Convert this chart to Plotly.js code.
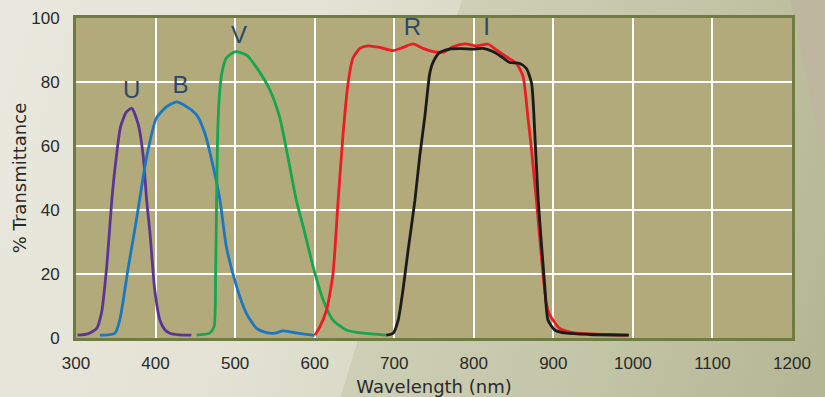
<!DOCTYPE html>
<html>
<head>
<meta charset="utf-8">
<script src="https://cdn.plot.ly/plotly-3.0.1.min.js"></script>
<style>
html,body{margin:0;padding:0;}
body{width:825px;height:397px;overflow:hidden;
background: linear-gradient(107deg, #e9e8de 0%, #e3e2d4 35%, #dadbc8 48.8%, #cdd0b6 48.8%, #c3c6a8 72%, #b4b592 100%);}
#chart{width:825px;height:397px;}
</style>
</head>
<body>
<div id="chart"></div>
<script>
// Wavelength (nm) and % transmittance for each filter
const uWave = [302, 315, 326, 332, 338.5, 345, 349, 356, 363, 370, 378, 384.6, 388.8, 393, 399, 405.5, 412, 418, 430, 445];
const uTrans = [0.9, 1.3, 3, 7.8, 22, 43, 53, 66, 70.5, 71.8, 67, 56.6, 43, 32.8, 15, 5.6, 2.5, 1.5, 1.0, 0.9];

const bWave = [330, 340, 349, 355, 365.7, 376, 388.8, 401, 414, 426.5, 439, 451.6, 462, 472.5, 481, 489, 502, 514, 527, 539.6, 550, 560, 572, 585, 600];
const bTrans = [0.9, 1.0, 1.5, 5.6, 22, 37, 56.6, 68.7, 72.3, 73.8, 72.3, 69.7, 64, 53.5, 43, 28.5, 16, 7.8, 3, 1.7, 1.5, 2.2, 1.8, 1.3, 0.8];

const vWave = [451.6, 460, 468, 473.5, 475.5, 476.7, 478, 480, 483.5, 489, 500.6, 514.4, 529, 543.7, 556, 566, 577, 585.6, 598, 610.7, 623, 640, 661, 690];
const vTrans = [0.9, 1.1, 1.5, 3.5, 20, 43, 63, 75, 83, 87.5, 89.5, 88.4, 83.8, 77.5, 69, 57, 43, 34.8, 22.3, 11.9, 5.6, 2.5, 1.5, 0.9];

const rWave = [600.3, 606.5, 615, 623, 629.5, 635.8, 642, 648, 656.8, 667, 682, 698.6, 711, 723.7, 736, 749, 761.4, 774, 788.7, 803, 818, 828.5, 841, 853.6, 862, 868, 872.6, 878.7, 891, 895.5, 908, 924.7, 966.6, 993.8];
const rTrans = [0.9, 3.5, 8.75, 20, 43, 64, 79.6, 87.4, 90.5, 91.3, 90.8, 89.8, 90.8, 91.9, 90.5, 89.5, 89.3, 91, 91.9, 91.3, 91.8, 90, 87.9, 85.8, 81.7, 69, 58.8, 43, 11, 7.2, 3, 1.7, 1.1, 0.9];

const iWave = [690, 698.6, 705, 711, 717.5, 726, 732, 738.4, 744.7, 749, 757, 769.8, 785, 799, 811.7, 824, 834.8, 845, 857.8, 866, 872.6, 876.7, 881, 889, 893.3, 901.7, 916.4, 945.7, 995];
const iTrans = [0.9, 1.5, 5.6, 15, 27.5, 43, 56.7, 69, 82.7, 86.3, 89.2, 90.3, 90.4, 90.3, 90.5, 89.5, 87.9, 86.1, 85.8, 84.3, 79.6, 64, 43, 17, 5.6, 2.5, 1.5, 1.1, 0.9];

const labelNames = ["U", "B", "V", "R", "I"];
const labelWave = [370, 431.5, 505, 723, 816];
const labelTrans = [77, 78.4, 94.2, 96.6, 96.6];

const xTicks = [300, 400, 500, 600, 700, 800, 900, 1000, 1100, 1200];
const yTicks = [0, 20, 40, 60, 80, 100];

const colors = {U: "#5b3596", B: "#1a78c2", V: "#14a650", R: "#ec1c24", I: "#1b1b1b"};

function line(x, y, c) {
  return {x: x, y: y, type: "scatter", mode: "lines",
    line: {color: c, width: 2.8, shape: "spline", smoothing: 0.6},
    hoverinfo: "skip", showlegend: false};
}

const data = [
  line(uWave, uTrans, colors.U),
  line(bWave, bTrans, colors.B),
  line(vWave, vTrans, colors.V),
  line(rWave, rTrans, colors.R),
  line(iWave, iTrans, colors.I),
  {x: labelWave, y: labelTrans, text: labelNames, type: "scatter", mode: "text",
   textfont: {family: "Liberation Sans Narrow, Liberation Sans, Arial, sans-serif", size: 24, color: "#2b4868"},
   textposition: "middle center", hoverinfo: "skip", showlegend: false, cliponaxis: false}
];

const axisFont = {family: "Liberation Sans, Arial, sans-serif", size: 17, color: "#2a2a2a"};
const titleFont = {family: "DejaVu Sans, Verdana, sans-serif", size: 18, color: "#2a2a2a"};

const layout = {
  width: 825, height: 397,
  margin: {l: 76, r: 33, t: 18, b: 59, pad: 0},
  paper_bgcolor: "rgba(0,0,0,0)",
  plot_bgcolor: "#b2aa7a",
  shapes: [{type: "path", xref: "paper", yref: "paper", layer: "below",
    path: "M 0.997 1.06 L 1.05 1.06 L 1.05 0.49 Z",
    fillcolor: "#beb69e", line: {width: 0}}],
  xaxis: {
    range: [300, 1200], tickvals: xTicks, ticktext: xTicks.map(String),
    showgrid: true, gridcolor: "#ffffff", gridwidth: 2,
    zeroline: false, showline: true, mirror: true, linecolor: "#6e7b41", linewidth: 3,
    ticks: "", tickfont: axisFont, ticklabelstandoff: 8,
    title: {text: "Wavelength (nm)", font: titleFont, standoff: 8},
    fixedrange: true
  },
  yaxis: {
    range: [0, 100], tickvals: yTicks, ticktext: yTicks.map(String),
    showgrid: true, gridcolor: "#ffffff", gridwidth: 2,
    zeroline: false, showline: true, mirror: true, linecolor: "#6e7b41", linewidth: 3,
    ticks: "", tickfont: axisFont, ticklabelstandoff: 10,
    title: {text: "% Transmittance", font: titleFont, standoff: 0},
    fixedrange: true
  },
  font: {family: "Liberation Sans, Arial, sans-serif"}
};

Plotly.newPlot("chart", data, layout, {displayModeBar: false, staticPlot: true});
</script>
</body>
</html>
